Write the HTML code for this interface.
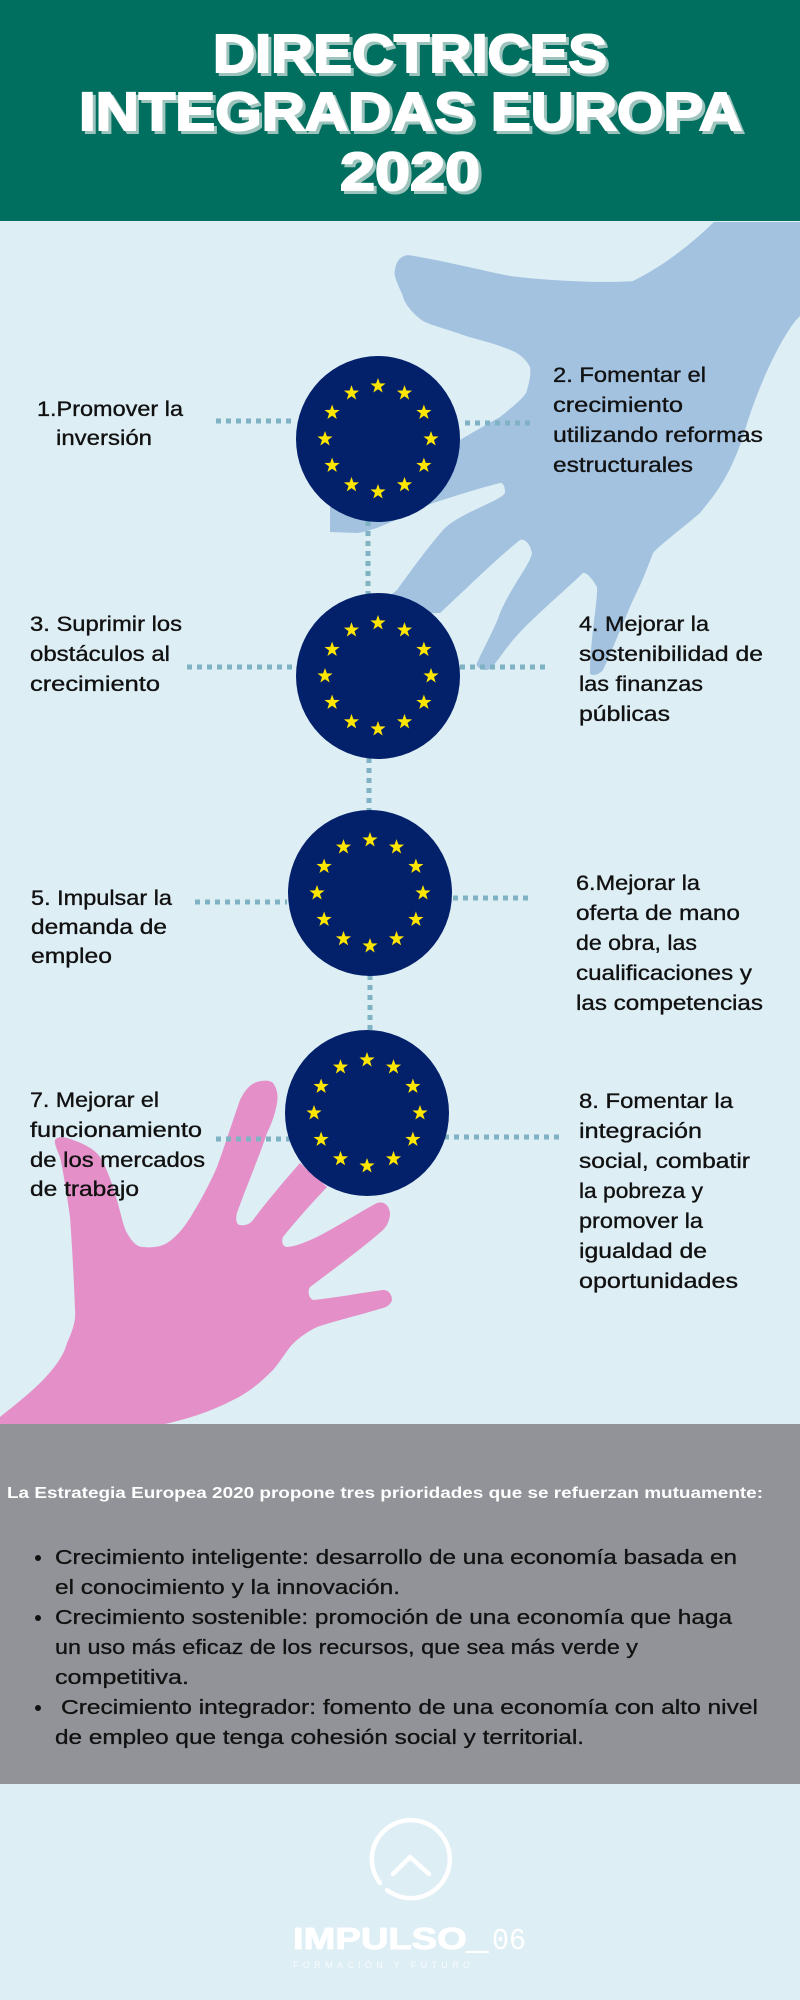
<!DOCTYPE html>
<html><head><meta charset="utf-8"><style>
html,body{margin:0;padding:0;background:#ddeef5;}
svg{display:block;}
.t{font-family:"Liberation Sans",sans-serif;font-size:21px;fill:#111;stroke:#111;stroke-width:0.35;}
.b{font-family:"Liberation Sans",sans-serif;font-size:20px;fill:#111;stroke:#111;stroke-width:0.3;}
.h{font-family:"Liberation Sans",sans-serif;font-weight:bold;font-size:54px;}
</style></head><body>
<svg width="800" height="2000" viewBox="0 0 800 2000" xmlns="http://www.w3.org/2000/svg">
<defs>
<polygon id="st" points="0,-8 1.9,-2.6 7.6,-2.5 3,1 4.7,6.5 0,3.2 -4.7,6.5 -3,1 -7.6,-2.5 -1.9,-2.6" fill="#ffe600"/>
<g id="flag">
<ellipse cx="0" cy="0" rx="82" ry="83" fill="#03206b"/>
<use href="#st" x="0" y="-53"/><use href="#st" x="26.5" y="-45.9"/><use href="#st" x="45.9" y="-26.5"/>
<use href="#st" x="53" y="0"/><use href="#st" x="45.9" y="26.5"/><use href="#st" x="26.5" y="45.9"/>
<use href="#st" x="0" y="53"/><use href="#st" x="-26.5" y="45.9"/><use href="#st" x="-45.9" y="26.5"/>
<use href="#st" x="-53" y="0"/><use href="#st" x="-45.9" y="-26.5"/><use href="#st" x="-26.5" y="-45.9"/>
</g>
</defs>
<rect x="0" y="0" width="800" height="2000" fill="#ddeef5"/>
<path fill="#a3c2e0" d="M714,222 L800,222 L800,316 C785,330 760,380 745,430 C730,480 710,500 700,513 C680,530 660,545 653,553 C645,575 638,590 633,600 C620,630 608,660 603,670 C598,676 590,676 590,673 C590,640 598,600 597,587 C592,578 586,572 583,573 C560,595 530,620 513,640 C500,656 492,670 487,670 C480,670 475,666 477,663 C485,645 495,628 500,613 C512,585 530,565 532,553 C530,543 524,538 520,540 C495,560 465,590 440,613 L360,615 C375,605 388,598 397,590 C415,565 430,545 443,530 C460,512 505,500 505,492 C505,485 502,482 500,483 C480,488 455,496 433,503 C410,512 380,530 357,533 L330,532 L330,505 L460,440 C480,428 495,420 500,417 C515,405 527,395 527,390 C530,380 531,372 530,367 C525,358 520,355 515,352 C500,345 480,340 469,337 C450,330 430,325 423,321 C410,312 403,300 403,296 C398,285 393,275 395,270 C396,262 400,256 408,255 C440,260 480,270 510,276 C560,282 610,283 633,281 C665,265 690,245 714,222 Z"/>
<path fill="#e48fc8" d="M0,1425 L0,1417 C15,1405 30,1393 40,1383 C55,1368 64,1355 67,1343 C73,1330 76,1320 75,1310 C74,1280 72,1245 70,1217 C67,1195 63,1170 60,1157 C57,1150 54,1143 55,1140 C58,1136 63,1137 67,1138 C80,1142 94,1148 100,1157 C108,1170 113,1187 117,1200 C121,1215 124,1228 127,1233 C132,1242 137,1247 143,1247 C152,1248 160,1247 167,1243 C178,1236 186,1225 193,1213 C202,1198 210,1183 217,1167 C225,1145 233,1120 240,1100 C245,1090 250,1084 257,1082 C263,1080 270,1080 273,1083 C278,1090 278,1097 277,1103 C275,1115 271,1125 267,1133 C258,1160 245,1190 237,1213 C235,1220 237,1225 240,1225 C245,1226 250,1224 253,1220 C268,1200 285,1180 300,1163 L327,1187 C310,1205 295,1222 283,1237 C281,1242 283,1247 287,1247 C298,1246 308,1241 317,1237 C340,1225 360,1212 377,1203 C384,1201 389,1205 390,1213 C390,1220 387,1226 383,1230 C360,1250 330,1272 310,1287 C307,1292 309,1298 313,1300 C335,1298 360,1293 383,1290 C389,1290 392,1295 392,1300 C391,1304 387,1307 383,1308 C360,1315 335,1321 317,1327 C305,1333 296,1340 290,1347 C284,1355 279,1363 273,1370 C260,1383 248,1393 233,1400 C210,1412 185,1420 160,1425 Z"/>
<rect x="0" y="0" width="800" height="221" fill="#006f5f"/>
<g class="h" text-anchor="start">
<text x="216" y="75" fill="#9cc3bc" stroke="#9cc3bc" stroke-width="2" textLength="394" lengthAdjust="spacingAndGlyphs">DIRECTRICES</text>
<text x="213" y="72" fill="#fff" stroke="#fff" stroke-width="2" textLength="394" lengthAdjust="spacingAndGlyphs">DIRECTRICES</text>
<text x="82" y="133" fill="#9cc3bc" stroke="#9cc3bc" stroke-width="2" textLength="663" lengthAdjust="spacingAndGlyphs">INTEGRADAS EUROPA</text>
<text x="79" y="130" fill="#fff" stroke="#fff" stroke-width="2" textLength="663" lengthAdjust="spacingAndGlyphs">INTEGRADAS EUROPA</text>
<text x="343" y="193" fill="#9cc3bc" stroke="#9cc3bc" stroke-width="2" textLength="140" lengthAdjust="spacingAndGlyphs">2020</text>
<text x="340" y="190" fill="#fff" stroke="#fff" stroke-width="2" textLength="140" lengthAdjust="spacingAndGlyphs">2020</text>
</g>
<g stroke="#7fb3c3" stroke-width="5" stroke-dasharray="5,5" fill="none">
<line x1="216" y1="421" x2="296" y2="421"/>
<line x1="465" y1="423" x2="530" y2="423"/>
<line x1="368" y1="521" x2="368" y2="595"/>
<line x1="187" y1="667" x2="296" y2="667"/>
<line x1="460" y1="667" x2="548" y2="667"/>
<line x1="369" y1="758" x2="369" y2="812"/>
<line x1="195" y1="902" x2="287" y2="902"/>
<line x1="453" y1="898" x2="533" y2="898"/>
<line x1="370" y1="975" x2="370" y2="1030"/>
<line x1="216" y1="1139" x2="290" y2="1139"/>
<line x1="444" y1="1137" x2="561" y2="1137"/>
</g>
<use href="#flag" x="378" y="439"/>
<use href="#flag" x="378" y="676"/>
<use href="#flag" x="370" y="893"/>
<use href="#flag" x="367" y="1113"/>
<g class="t">
<text x="37" y="416" textLength="146" lengthAdjust="spacingAndGlyphs">1.Promover la</text>
<text x="56" y="445" textLength="96" lengthAdjust="spacingAndGlyphs">inversión</text>
<text x="553" y="382" textLength="153" lengthAdjust="spacingAndGlyphs">2. Fomentar el</text>
<text x="553" y="412" textLength="130" lengthAdjust="spacingAndGlyphs">crecimiento</text>
<text x="553" y="442" textLength="210" lengthAdjust="spacingAndGlyphs">utilizando reformas</text>
<text x="553" y="472" textLength="140" lengthAdjust="spacingAndGlyphs">estructurales</text>
<text x="30" y="631" textLength="152" lengthAdjust="spacingAndGlyphs">3. Suprimir los</text>
<text x="30" y="661" textLength="140" lengthAdjust="spacingAndGlyphs">obstáculos al</text>
<text x="30" y="691" textLength="130" lengthAdjust="spacingAndGlyphs">crecimiento</text>
<text x="579" y="631" textLength="130" lengthAdjust="spacingAndGlyphs">4. Mejorar la</text>
<text x="579" y="661" textLength="184" lengthAdjust="spacingAndGlyphs">sostenibilidad de</text>
<text x="579" y="691" textLength="124" lengthAdjust="spacingAndGlyphs">las finanzas</text>
<text x="579" y="721" textLength="91" lengthAdjust="spacingAndGlyphs">públicas</text>
<text x="31" y="905" textLength="141" lengthAdjust="spacingAndGlyphs">5. Impulsar la</text>
<text x="31" y="934" textLength="136" lengthAdjust="spacingAndGlyphs">demanda de</text>
<text x="31" y="963" textLength="81" lengthAdjust="spacingAndGlyphs">empleo</text>
<text x="576" y="890" textLength="124" lengthAdjust="spacingAndGlyphs">6.Mejorar la</text>
<text x="576" y="920" textLength="164" lengthAdjust="spacingAndGlyphs">oferta de mano</text>
<text x="576" y="950" textLength="121" lengthAdjust="spacingAndGlyphs">de obra, las</text>
<text x="576" y="980" textLength="176" lengthAdjust="spacingAndGlyphs">cualificaciones y</text>
<text x="576" y="1010" textLength="187" lengthAdjust="spacingAndGlyphs">las competencias</text>
<text x="30" y="1107" textLength="129" lengthAdjust="spacingAndGlyphs">7. Mejorar el</text>
<text x="30" y="1137" textLength="172" lengthAdjust="spacingAndGlyphs">funcionamiento</text>
<text x="30" y="1167" textLength="175" lengthAdjust="spacingAndGlyphs">de los mercados</text>
<text x="30" y="1196" textLength="109" lengthAdjust="spacingAndGlyphs">de trabajo</text>
<text x="579" y="1108" textLength="154" lengthAdjust="spacingAndGlyphs">8. Fomentar la</text>
<text x="579" y="1138" textLength="123" lengthAdjust="spacingAndGlyphs">integración</text>
<text x="579" y="1168" textLength="171" lengthAdjust="spacingAndGlyphs">social, combatir</text>
<text x="579" y="1198" textLength="124" lengthAdjust="spacingAndGlyphs">la pobreza y</text>
<text x="579" y="1228" textLength="124" lengthAdjust="spacingAndGlyphs">promover la</text>
<text x="579" y="1258" textLength="128" lengthAdjust="spacingAndGlyphs">igualdad de</text>
<text x="579" y="1288" textLength="159" lengthAdjust="spacingAndGlyphs">oportunidades</text>
</g>
<rect x="0" y="1424" width="800" height="360" fill="#919398"/>
<text x="7" y="1498" fill="#fff" font-family="Liberation Sans, sans-serif" font-weight="bold" font-size="16" textLength="756" lengthAdjust="spacingAndGlyphs">La Estrategia Europea 2020 propone tres prioridades que se refuerzan mutuamente:</text>
<g fill="#111"><circle cx="38" cy="1558" r="3"/><circle cx="38" cy="1618" r="3"/><circle cx="38" cy="1708" r="3"/></g>
<g class="b">
<text x="55" y="1564" textLength="682" lengthAdjust="spacingAndGlyphs">Crecimiento inteligente: desarrollo de una economía basada en</text>
<text x="55" y="1594" textLength="345" lengthAdjust="spacingAndGlyphs">el conocimiento y la innovación.</text>
<text x="55" y="1624" textLength="677" lengthAdjust="spacingAndGlyphs">Crecimiento sostenible: promoción de una economía que haga</text>
<text x="55" y="1654" textLength="583" lengthAdjust="spacingAndGlyphs">un uso más eficaz de los recursos, que sea más verde y</text>
<text x="55" y="1684" textLength="134" lengthAdjust="spacingAndGlyphs">competitiva.</text>
<text x="61" y="1714" textLength="697" lengthAdjust="spacingAndGlyphs">Crecimiento integrador: fomento de una economía con alto nivel</text>
<text x="55" y="1744" textLength="529" lengthAdjust="spacingAndGlyphs">de empleo que tenga cohesión social y territorial.</text>
</g>
<path d="M380,1883 A39,39 0 1 1 387,1890" fill="none" stroke="#fff" stroke-width="4.5" stroke-linecap="round"/>
<polyline points="393,1874 410,1857 429,1874" fill="none" stroke="#fff" stroke-width="4.5" stroke-linecap="round" stroke-linejoin="round"/>
<text x="293" y="1949" fill="#fff" stroke="#fff" stroke-width="1" font-family="Liberation Sans, sans-serif" font-weight="bold" font-size="31" textLength="195" lengthAdjust="spacingAndGlyphs">IMPULSO_</text>
<text x="492" y="1949" fill="#fff" font-family="Liberation Mono, monospace" font-size="31" textLength="34" lengthAdjust="spacingAndGlyphs">06</text>
<text x="293" y="1968" fill="#fff" fill-opacity="0.8" font-family="Liberation Sans, sans-serif" font-size="9" textLength="177" lengthAdjust="spacing">FORMACIÓN Y FUTURO</text>
</svg>
</body></html>
